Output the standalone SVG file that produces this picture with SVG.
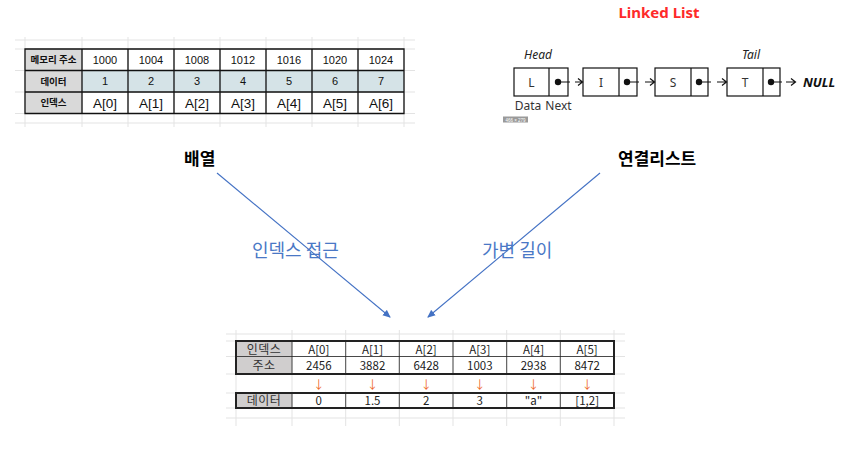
<svg xmlns="http://www.w3.org/2000/svg" width="855" height="455" viewBox="0 0 855 455">
<style>
.grid{stroke:#e3e3e3;stroke-width:1;fill:none}
.tb{stroke:#111;stroke-width:1.3;fill:none}
.thin{stroke:#222;stroke-width:0.8;fill:none}
.hdr{font-family:"Noto Sans CJK KR",sans-serif;font-weight:bold;font-size:9.5px;fill:#111;text-anchor:middle}
.num{font-family:"Liberation Sans",Arial,sans-serif;font-size:11px;fill:#111;text-anchor:middle}
.idx{font-family:"Liberation Sans",Arial,sans-serif;font-size:13.5px;fill:#111;text-anchor:middle}
.bt{font-family:"Noto Sans CJK KR",sans-serif;font-size:11.5px;fill:#222;text-anchor:middle}
.bh{font-family:"Noto Sans CJK KR",sans-serif;font-size:12px;fill:#333;text-anchor:middle;letter-spacing:0.5px}
.dn{font-family:"Noto Sans CJK KR",sans-serif;font-size:11.5px;fill:#ee6a2a;text-anchor:middle}
.box{stroke:#111;stroke-width:1.2;fill:#fff}
.ll{font-family:"Noto Sans",sans-serif;font-size:12px;fill:#333;text-anchor:middle}
.lk{stroke:#111;stroke-width:1.2;fill:none}
.big{font-family:"Noto Sans CJK KR",sans-serif;font-weight:bold;font-size:17px;fill:#000}
.blue{font-family:"Noto Sans CJK KR",sans-serif;font-size:18px;fill:#4a78c6}
.conn{stroke:#4472c4;stroke-width:1.1;fill:none}
</style>
<defs>
<marker id="ah" markerWidth="8" markerHeight="8" refX="7" refY="4" orient="auto" markerUnits="userSpaceOnUse">
<path d="M0,0.5 L8,4 L0,7.5 Z" fill="#4472c4"/>
</marker>
</defs>

<g id="array-table">
<g class="grid">
<path d="M15,40H415M15,49H415M15,70.5H415M15,92H415M15,113.5H415M15,123H415"/>
<path d="M25,37V127M82,37V127M128,37V127M174,37V127M220,37V127M266,37V127M312,37V127M358,37V127M404,37V127"/>
</g>
<rect x="25" y="49" width="57" height="64.5" fill="#d9d9d9"/>
<rect x="82" y="70.5" width="322" height="21.5" fill="#d5e3e7"/>
<path class="tb" d="M25,49H404V113.5H25Z M25,70.5H404 M25,92H404 M82,49V113.5 M128,49V113.5 M174,49V113.5 M220,49V113.5 M266,49V113.5 M312,49V113.5 M358,49V113.5"/>
<text class="hdr" x="53.5" y="63">메모리 주소</text>
<text class="hdr" x="53.5" y="84.5">데이터</text>
<text class="hdr" x="53.5" y="106">인덱스</text>
<text class="num" x="105" y="63.5">1000</text>
<text class="num" x="151" y="63.5">1004</text>
<text class="num" x="197" y="63.5">1008</text>
<text class="num" x="243" y="63.5">1012</text>
<text class="num" x="289" y="63.5">1016</text>
<text class="num" x="335" y="63.5">1020</text>
<text class="num" x="381" y="63.5">1024</text>
<text class="num" x="105" y="85">1</text>
<text class="num" x="151" y="85">2</text>
<text class="num" x="197" y="85">3</text>
<text class="num" x="243" y="85">4</text>
<text class="num" x="289" y="85">5</text>
<text class="num" x="335" y="85">6</text>
<text class="num" x="381" y="85">7</text>
<text class="idx" x="105" y="107.5">A[0]</text>
<text class="idx" x="151" y="107.5">A[1]</text>
<text class="idx" x="197" y="107.5">A[2]</text>
<text class="idx" x="243" y="107.5">A[3]</text>
<text class="idx" x="289" y="107.5">A[4]</text>
<text class="idx" x="335" y="107.5">A[5]</text>
<text class="idx" x="381" y="107.5">A[6]</text>
</g>

<g id="linked-list">
<text x="659" y="18" font-family="Noto Sans,sans-serif" font-weight="bold" font-size="15px" fill="#fe2a2a" text-anchor="middle">Linked List</text>
<text x="538" y="59" font-family="Noto Sans,sans-serif" font-style="italic" font-size="12px" fill="#222" text-anchor="middle">Head</text>
<text x="751" y="59" font-family="Noto Sans,sans-serif" font-style="italic" font-size="12px" fill="#222" text-anchor="middle">Tail</text>
<g id="node-L"><rect class="box" x="514" y="68" width="54" height="28"/><path class="lk" d="M549,68V96"/><text class="ll" x="531.5" y="86.5">L</text><circle cx="558" cy="82" r="3.2" fill="#111"/></g>
<g id="node-I"><rect class="box" x="583" y="68" width="54" height="28"/><path class="lk" d="M619,68V96"/><text class="ll" x="601" y="86.5">I</text><circle cx="627" cy="82" r="3.2" fill="#111"/></g>
<g id="node-S"><rect class="box" x="655" y="68" width="53" height="28"/><path class="lk" d="M691,68V96"/><text class="ll" x="673" y="86.5">S</text><circle cx="699" cy="82" r="3.2" fill="#111"/></g>
<g id="node-T"><rect class="box" x="727" y="68" width="53" height="28"/><path class="lk" d="M763,68V96"/><text class="ll" x="745" y="86.5">T</text><circle cx="771" cy="82" r="3.2" fill="#111"/></g>
<g id="ll-links" class="lk">
<path d="M558,82H570 M575,82H582 M578,78.5L582.5,82L578,85.5"/>
<path d="M627,82H639 M645,82H654 M650,78.5L654.5,82L650,85.5"/>
<path d="M699,82H711 M717,82H726 M722,78.5L726.5,82L722,85.5"/>
<path d="M771,82H782 M786,82H795 M791,78.5L795.5,82L791,85.5"/>
</g>
<text x="803" y="87" font-family="Noto Sans,sans-serif" font-style="italic" font-weight="bold" font-size="13px" fill="#111">NULL</text>
<text x="528" y="110" font-family="Noto Sans,sans-serif" font-size="12px" fill="#333" text-anchor="middle">Data</text>
<text x="558.5" y="110" font-family="Noto Sans,sans-serif" font-size="12px" fill="#333" text-anchor="middle">Next</text>
<rect x="503" y="116.5" width="25" height="6" fill="#9a9a9a"/>
<text x="515.5" y="121.5" font-family="Liberation Sans,sans-serif" font-size="4.5px" fill="#fff" text-anchor="middle">466 × 279</text>
</g>

<g id="label-array"><text class="big" x="184" y="165">배열</text></g>
<g id="label-linked"><text class="big" x="618" y="165">연결리스트</text></g>

<g id="connectors">
<path class="conn" d="M217,173L390,317" marker-end="url(#ah)"/>
<path class="conn" d="M600,173L428,317" marker-end="url(#ah)"/>
<text class="blue" x="252" y="257">인덱스 접근</text>
<text class="blue" x="482" y="257">가변 길이</text>
</g>

<g id="result-table">
<g class="grid">
<path d="M226,334H625M226,341H625M226,356.5H625M226,374H625M226,393H625M226,408H625M226,418H625"/>
<path d="M236,330V426M292,330V426M345.7,330V426M399.3,330V426M453,330V426M506.7,330V426M560.3,330V426M614,330V426"/>
</g>
<rect x="236" y="341" width="56" height="33" fill="#d0cece"/>
<rect x="236" y="393" width="56" height="15" fill="#d0cece"/>
<path class="thin" d="M236,356.5H614 M292,341V374 M345.7,341V374 M399.3,341V374 M453,341V374 M506.7,341V374 M560.3,341V374 M292,393V408 M345.7,393V408 M399.3,393V408 M453,393V408 M506.7,393V408 M560.3,393V408"/>
<rect x="236" y="341" width="378" height="33" fill="none" stroke="#222" stroke-width="2"/>
<rect x="236" y="393" width="378" height="15" fill="none" stroke="#222" stroke-width="2"/>
<text class="bh" x="264" y="353.5">인덱스</text>
<text class="bh" x="264" y="370">주소</text>
<text class="bh" x="264" y="404.5">데이터</text>
<text class="bt" x="318.8" y="353.5">A[0]</text>
<text class="bt" x="372.5" y="353.5">A[1]</text>
<text class="bt" x="426.2" y="353.5">A[2]</text>
<text class="bt" x="479.8" y="353.5">A[3]</text>
<text class="bt" x="533.5" y="353.5">A[4]</text>
<text class="bt" x="587.2" y="353.5">A[5]</text>
<text class="bt" x="318.8" y="370">2456</text>
<text class="bt" x="372.5" y="370">3882</text>
<text class="bt" x="426.2" y="370">6428</text>
<text class="bt" x="479.8" y="370">1003</text>
<text class="bt" x="533.5" y="370">2938</text>
<text class="bt" x="587.2" y="370">8472</text>
<text class="dn" x="318.8" y="389">↓</text>
<text class="dn" x="372.5" y="389">↓</text>
<text class="dn" x="426.2" y="389">↓</text>
<text class="dn" x="479.8" y="389">↓</text>
<text class="dn" x="533.5" y="389">↓</text>
<text class="dn" x="587.2" y="389">↓</text>
<text class="bt" x="318.8" y="404.5">0</text>
<text class="bt" x="372.5" y="404.5">1.5</text>
<text class="bt" x="426.2" y="404.5">2</text>
<text class="bt" x="479.8" y="404.5">3</text>
<text class="bt" x="533.5" y="404.5">"a"</text>
<text class="bt" x="587.2" y="404.5">[1,2]</text>
</g>
</svg>
